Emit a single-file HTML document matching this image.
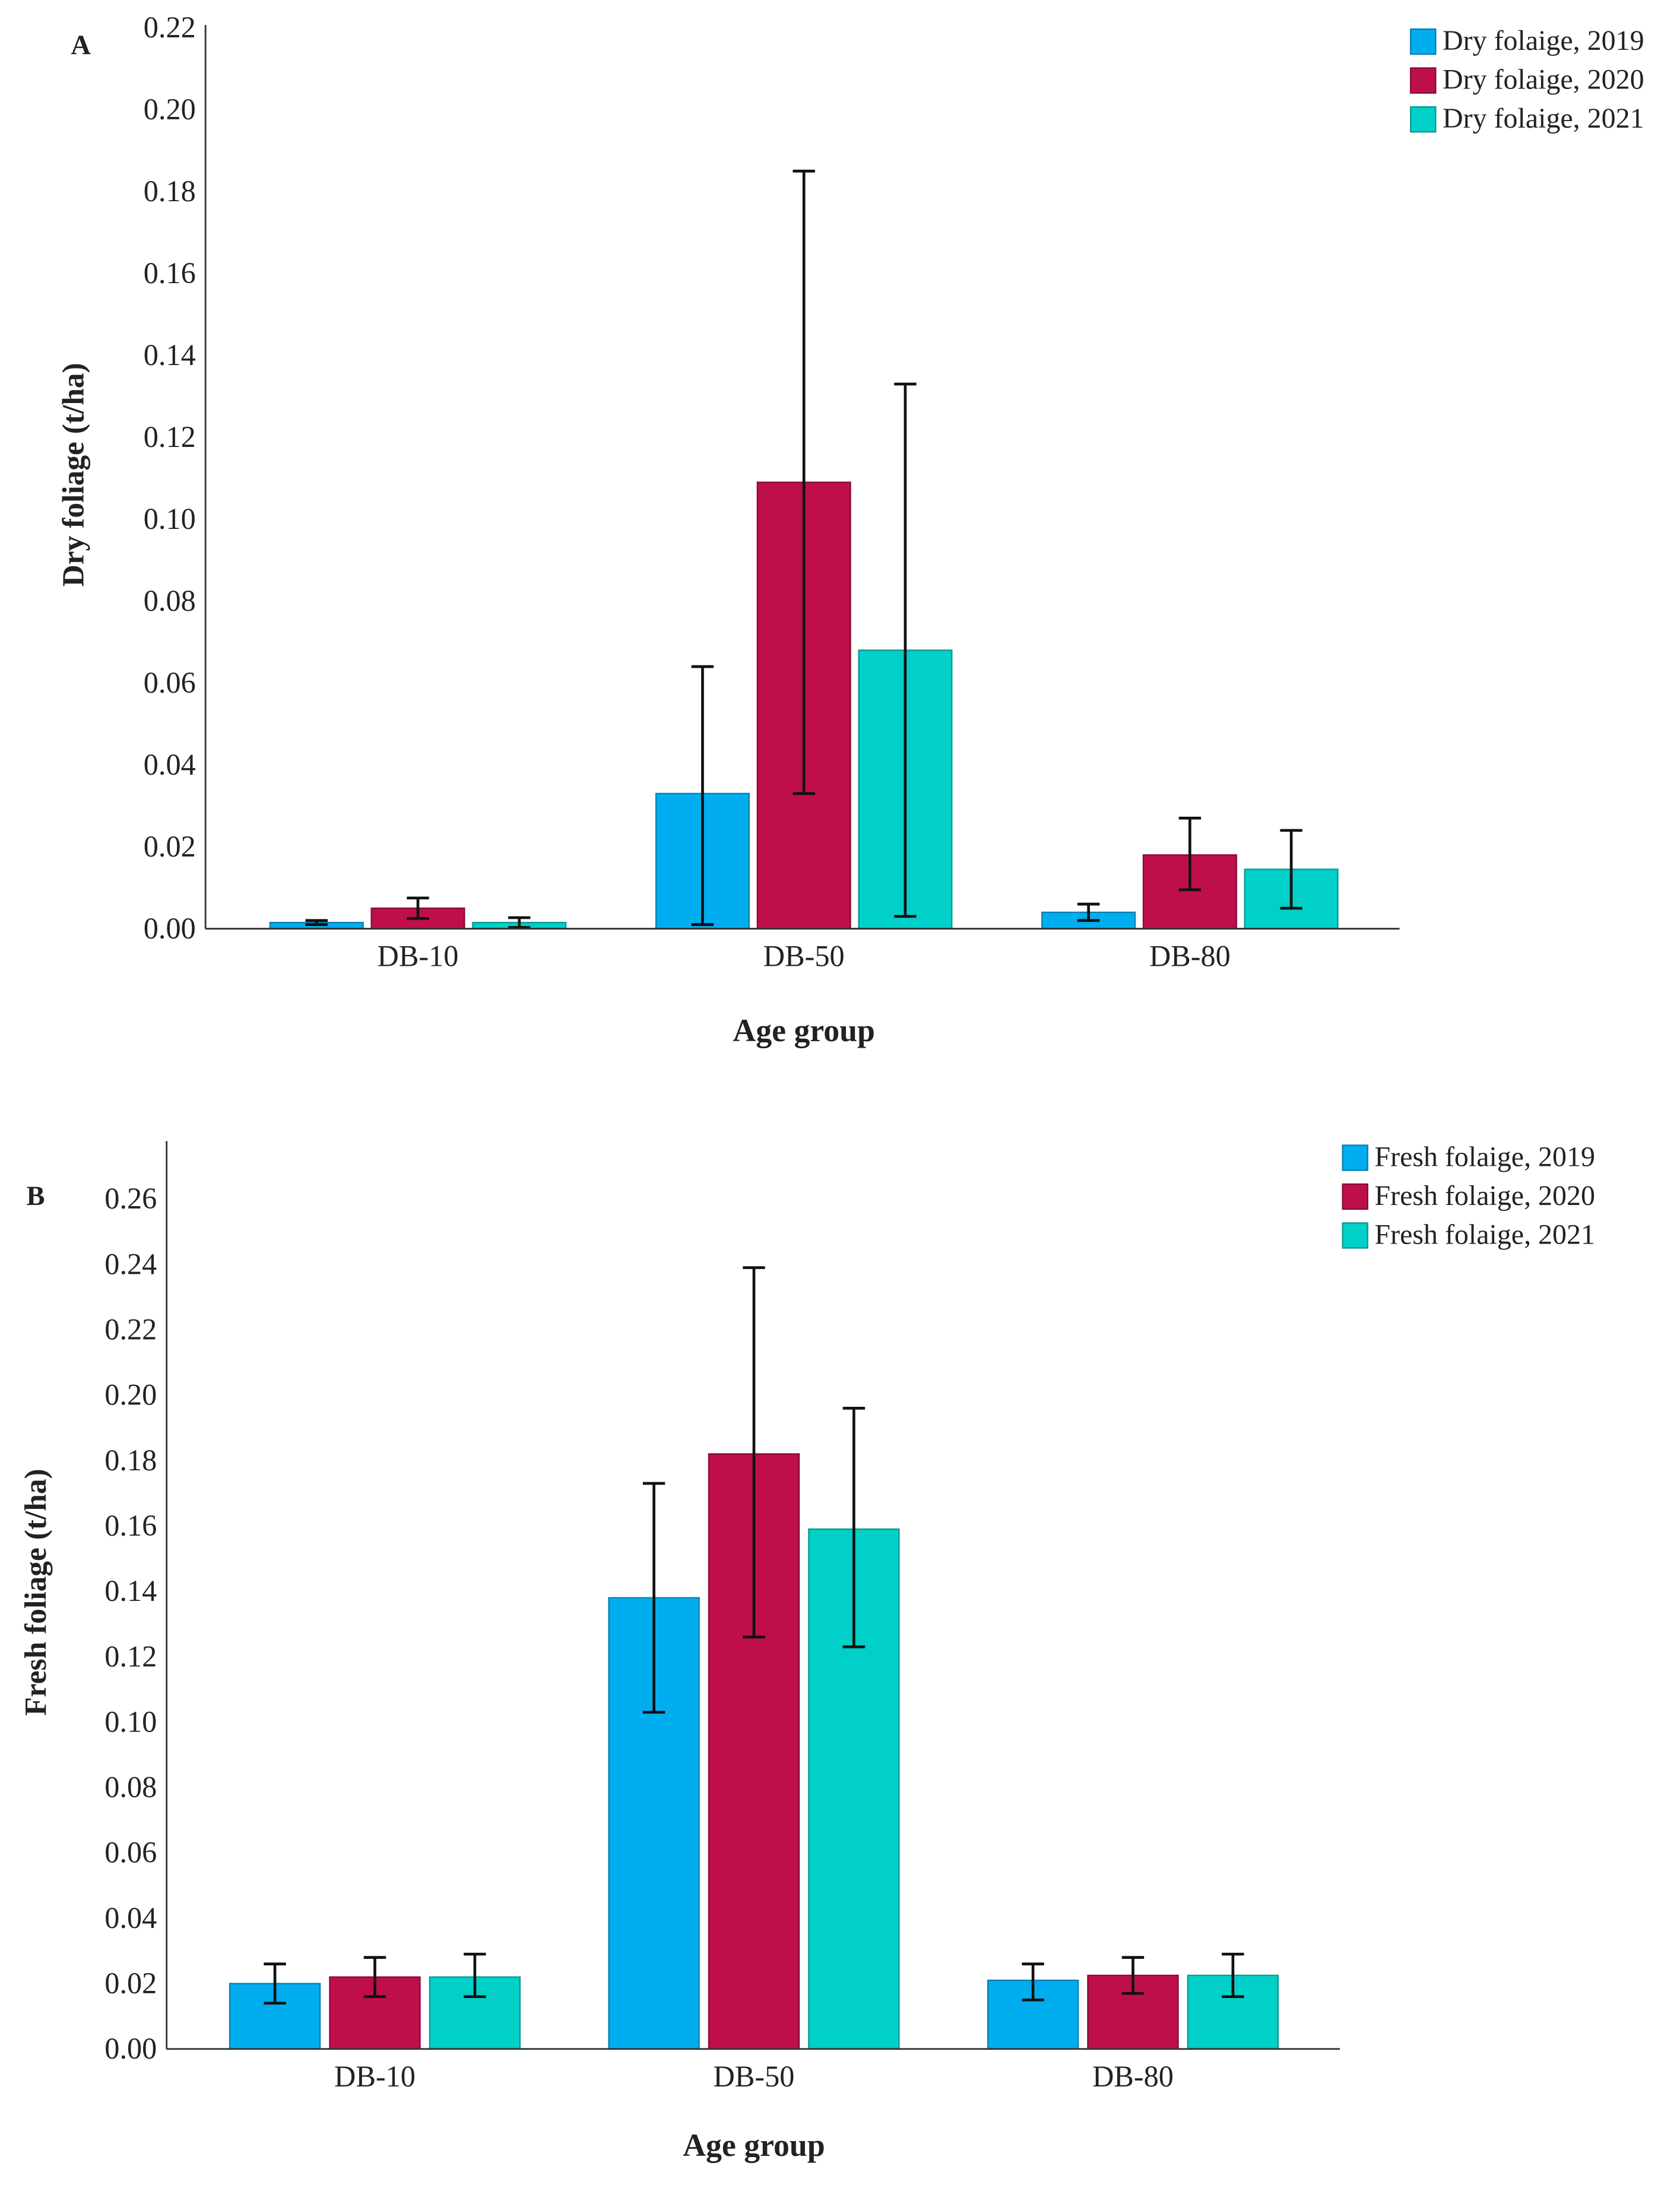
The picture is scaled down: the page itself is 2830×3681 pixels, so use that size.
<!DOCTYPE html>
<html><head><meta charset="utf-8"><style>html,body{margin:0;padding:0;background:#fff}svg{display:block}text{font-family:"Liberation Serif",serif;fill:#222}</style></head>
<body>
<svg id="root" width="2830" height="3681" viewBox="0 0 1210 1574" preserveAspectRatio="none" xmlns="http://www.w3.org/2000/svg"></svg>
<script>
const categories = ["DB-10","DB-50","DB-80"];
const colors = ["#00aeef","#be0f4a","#00d0c8"];
const strokes = ["#0a7fb0","#8a0a36","#0a9a94"];
// Panel A
const seriesA = ["Dry folaige, 2019","Dry folaige, 2020","Dry folaige, 2021"];
const valuesA = [[0.0015,0.033,0.004],[0.005,0.109,0.018],[0.0015,0.068,0.0145]];
const lowA = [[0.001,0.001,0.002],[0.0025,0.033,0.0095],[0.0003,0.003,0.005]];
const highA = [[0.002,0.064,0.006],[0.0075,0.185,0.027],[0.0027,0.133,0.024]];
const ticksA = ["0.00","0.02","0.04","0.06","0.08","0.10","0.12","0.14","0.16","0.18","0.20","0.22"];
// Panel B
const seriesB = ["Fresh folaige, 2019","Fresh folaige, 2020","Fresh folaige, 2021"];
const valuesB = [[0.020,0.138,0.021],[0.022,0.182,0.0225],[0.022,0.159,0.0225]];
const lowB = [[0.014,0.103,0.015],[0.016,0.126,0.017],[0.016,0.123,0.016]];
const highB = [[0.026,0.173,0.026],[0.028,0.239,0.028],[0.029,0.196,0.029]];
const ticksB = ["0.00","0.02","0.04","0.06","0.08","0.10","0.12","0.14","0.16","0.18","0.20","0.22","0.24","0.26"];

const NS="http://www.w3.org/2000/svg";
const root=document.getElementById('root');
function mk(tag,attrs,parent,txt){const e=document.createElementNS(NS,tag);for(const k in attrs)e.setAttribute(k,attrs[k]);if(txt!==undefined)e.textContent=txt;(parent||root).appendChild(e);return e;}

function panel(cfg){
  const g=mk('g',{});
  
  
  const y=v=>cfg.y0-(v/0.02)*cfg.step;
  const x=i=>cfg.cx0+i*cfg.cdx;
  const ya=mk('line',{x1:cfg.ax,y1:cfg.top,x2:cfg.ax,y2:cfg.y0,stroke:'#333','stroke-width':1.2},g);
  
  
  cfg.ticks.forEach((t,i)=>{
    const tl=mk('text',{x:cfg.ax-7,y:y(parseFloat(t))+7,'text-anchor':'end','font-size':21.5},g,t);
    
    
  });
  categories.forEach((c,ci)=>{
    cfg.values.forEach((sv,si)=>{
      const bx=x(ci)+(si-1)*cfg.off-cfg.bw/2;
      const r=mk('rect',{x:bx,y:y(sv[ci]),width:cfg.bw,height:cfg.y0-y(sv[ci]),fill:colors[si],stroke:strokes[si],'stroke-width':1},g);
      
      
    });
    const xl=mk('text',{x:x(ci),y:cfg.y0+27,'text-anchor':'middle','font-size':21.5},g,c);
    
    
  });
  categories.forEach((c,ci)=>{
    cfg.values.forEach((sv,si)=>{
      const ex=x(ci)+(si-1)*cfg.off;
      const eg=mk('g',{stroke:'#111','stroke-width':2},g);
      
      
      const yl=y(cfg.low[si][ci]),yh=y(cfg.high[si][ci]);
      mk('line',{x1:ex,y1:yl,x2:ex,y2:yh},eg);
      mk('line',{x1:ex-8,y1:yl,x2:ex+8,y2:yl},eg);
      mk('line',{x1:ex-8,y1:yh,x2:ex+8,y2:yh},eg);
    });
  });
  const xa=mk('line',{x1:cfg.ax,y1:cfg.y0,x2:cfg.axEnd,y2:cfg.y0,stroke:'#333','stroke-width':1.2},g);
  
  
  const xt=mk('text',{x:x(1),y:cfg.xtY,'text-anchor':'middle','font-size':23,'font-weight':'bold'},g,'Age group');
  
  
  const yt=mk('text',{x:0,y:0,transform:`translate(${cfg.ytX},${cfg.ytY}) rotate(-90)`,'text-anchor':'middle','font-size':22,'font-weight':'bold'},g,cfg.ytitle);
  
  
  const pl=mk('text',{x:cfg.lblX,y:cfg.lblY,'font-size':20,'font-weight':'bold'},g,cfg.label);
  
  
  cfg.series.forEach((s,si)=>{
    const lg=mk('g',{},g);
    
    
    mk('rect',{x:cfg.lgX,y:cfg.lgY+si*28,width:18,height:18,fill:colors[si],stroke:strokes[si]},lg);
    mk('text',{x:cfg.lgX+23,y:cfg.lgY+si*28+15,'font-size':20.5},lg,s);
  });
}
panel({name:'chart-a-dry-foliage',y0:669,step:59,top:18,ax:148,axEnd:1008,cx0:301,cdx:278,off:73,bw:67,
  ticks:ticksA,values:valuesA,low:lowA,high:highA,series:seriesA,xtY:750,ytX:60,ytY:342,ytitle:'Dry foliage (t/ha)',
  label:'A',lblX:51,lblY:39,lgX:1016,lgY:21});
panel({name:'chart-b-fresh-foliage',y0:1476,step:47.1,top:822,ax:120,axEnd:965,cx0:270,cdx:273,off:72,bw:65,
  ticks:ticksB,values:valuesB,low:lowB,high:highB,series:seriesB,xtY:1553,ytX:33,ytY:1147,ytitle:'Fresh foliage (t/ha)',
  label:'B',lblX:19,lblY:868,lgX:967,lgY:825});
</script>
</body></html>
